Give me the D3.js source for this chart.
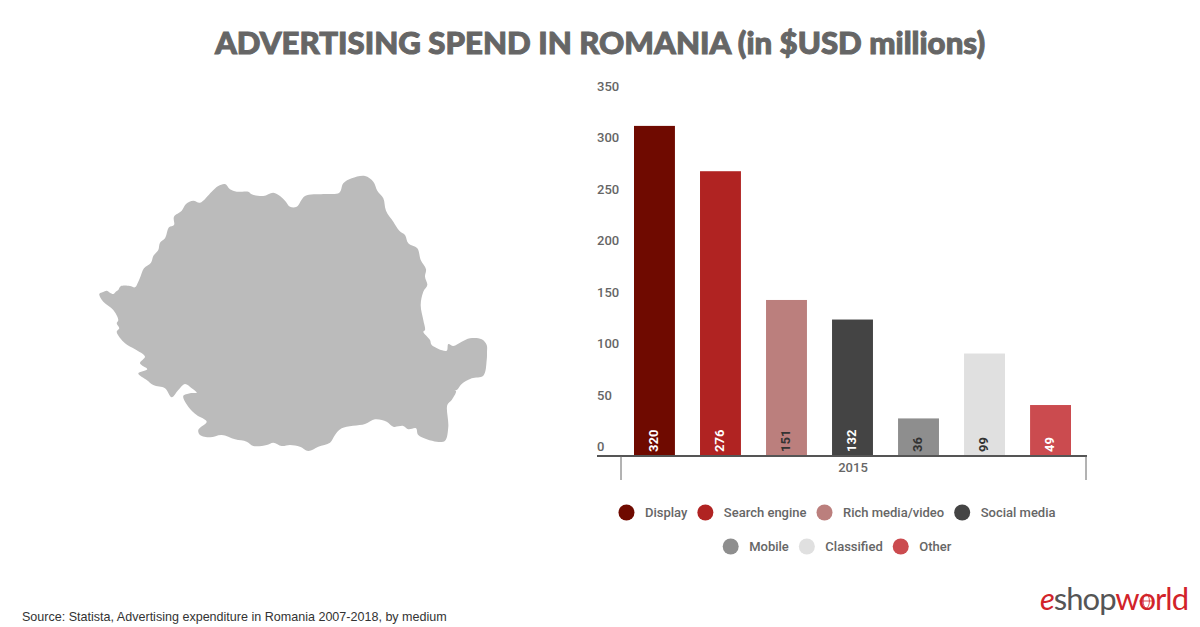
<!DOCTYPE html>
<html><head><meta charset="utf-8">
<script src="https://cdn.jsdelivr.net/npm/d3@7/dist/d3.min.js"></script>
<style>html,body{margin:0;padding:0;background:#fff}svg{display:block}</style>
</head><body><svg id="c" width="1200" height="627"></svg>
<script>
const categories = ["Display","Search engine","Rich media/video","Social media","Mobile","Classified","Other"];
const values = [320,276,151,132,36,99,49];
const colors = ["#6f0a00","#b02322","#bb7f7d","#444444","#8e8e8e","#e0e0e0","#cb4b4f"];
const labelColors = ["#fff","#fff","#333","#fff","#333","#333","#fff"];
const yTicks = [0,50,100,150,200,250,300,350];
const yearLabel = "2015";
const titleText = "ADVERTISING SPEND IN ROMANIA (in $USD millions)";
const sourceText = "Source: Statista, Advertising expenditure in Romania 2007-2018, by medium";
const legendRows = [[0,1,2,3],[4,5,6]];
const romaniaOutline = [[99.3,294],[103,292],[106.7,290.7],[110,292.7],[113.3,294],[116,291.5],[118.3,290],[120.7,286.3],[130,286],[135,287.3],[138.3,281.7],[140.7,276],[144,268.3],[151,262.7],[153.3,256],[158.3,250],[160,242.7],[165,238.3],[169,227.3],[174,225],[174,216.7],[181.7,210.7],[186,204],[193.3,200.7],[200,202.7],[211.7,191.7],[218.3,186],[225,184],[230,189.3],[236.7,191.7],[248.3,191.7],[251.7,194.3],[263.3,196],[273.3,192.7],[280,196],[285,200.7],[290,206.7],[296.7,206.7],[305,196],[323.3,194],[339.3,192.7],[343.3,183.3],[351.7,178.3],[365,176],[373.3,181.7],[377.3,190.7],[383.3,198.3],[386,210.7],[393.3,221.7],[399.3,230.7],[405,235],[408.3,243.3],[417.3,248.3],[420.7,260],[426,269.3],[425,276.7],[427.3,285],[423.3,291.7],[420.7,305],[423.3,320],[425,330],[423.3,331.7],[430,340],[431.7,345],[446.7,350.7],[448.3,344],[453.3,346],[461.7,341.7],[470,338.3],[481.7,339.3],[486.7,345],[487,352],[486.7,360],[483.3,375.7],[471.7,378.3],[461.7,384],[456.7,390],[451.7,390],[456,391],[451.7,400],[447.3,405],[448.3,426.7],[445,440.7],[436.7,441.7],[418.3,435],[416,428.3],[408.3,429.3],[403.3,426],[393.3,426.7],[386.7,421.7],[375,419.3],[365,424],[341.7,428.3],[335,435],[330,442.7],[318.3,446.7],[308.3,451],[300,446.7],[290,445],[281.7,446],[273.3,442.7],[266.7,445],[253.3,446],[246.7,441.7],[235,439.3],[221.7,435],[210,437.3],[200,435],[198.3,430],[206.7,421.7],[196.7,415],[188.3,406.7],[183.3,396],[190,393.3],[196.7,392.7],[191.7,388.3],[185,384],[178.3,390],[171.7,397.3],[165,388.3],[153.3,385],[146.7,380],[138.3,373.3],[147.3,369.3],[140,363.3],[145,356.7],[135,349.3],[125,343.3],[116.7,331.7],[119.3,328.3],[116.7,323.3],[118.3,320],[113.3,310],[103.3,301.7]];

const svg = d3.select("#c");
const ROBOTO = "Roboto, sans-serif";

svg.append("text").attr("x",600).attr("y",54).attr("text-anchor","middle")
  .attr("font-family","Lato, sans-serif").attr("font-weight",900).attr("font-size",31.2)
  .attr("fill","#666").attr("stroke","#666").attr("stroke-width",1).text(titleText);

// map
svg.append("path").attr("d", d3.line().curve(d3.curveCatmullRomClosed.alpha(0.5))(romaniaOutline)).attr("fill","#bbbbbb");

// scales
const y = d3.scaleLinear().domain([0,350]).range([455.5,95]);
const x = d3.scaleBand().domain(categories).range([621,1084]).paddingInner(0.38).paddingOuter(0.197);

// y axis
const yAxis = svg.append("g").attr("transform","translate(597,0)")
  .call(d3.axisLeft(y).tickValues(yTicks).tickSize(0).tickPadding(0));
yAxis.select(".domain").remove();
yAxis.selectAll("text").attr("text-anchor","start").attr("x",0).attr("dy",0).attr("y",-5)
  .attr("font-family",ROBOTO).attr("font-weight",500).attr("font-size",13).attr("fill","#666");

// bars
svg.selectAll("rect.bar").data(categories).join("rect").attr("class","bar")
  .attr("x",d=>x(d)).attr("width",x.bandwidth())
  .attr("y",(d,i)=>y(values[i])).attr("height",(d,i)=>y(0)-y(values[i]))
  .attr("fill",(d,i)=>colors[i]);
svg.selectAll("text.val").data(categories).join("text").attr("class","val")
  .attr("transform",d=>`translate(${x(d)+x.bandwidth()/2+3.5},${y(0)-3.5}) rotate(-90)`)
  .attr("font-family",ROBOTO).attr("font-weight",700).attr("font-size",13)
  .attr("fill",(d,i)=>labelColors[i]).text((d,i)=>values[i]);

// x axis
svg.append("line").attr("x1",597).attr("x2",1087).attr("y1",456).attr("y2",456).attr("stroke","#555").attr("stroke-width",2);
[621,1086].forEach(px=>svg.append("line").attr("x1",px).attr("x2",px).attr("y1",456).attr("y2",480).attr("stroke","#666").attr("stroke-width",1));
svg.append("text").attr("x",853).attr("y",472).attr("text-anchor","middle")
  .attr("font-family",ROBOTO).attr("font-weight",500).attr("font-size",13).attr("fill","#666").text(yearLabel);

// legend
legendRows.forEach((row,ri)=>{
  const g = svg.append("g");
  const cy = 512.5 + ri*34;
  let cx = 0;
  row.forEach(i=>{
    g.append("circle").attr("cx",cx).attr("cy",cy).attr("r",8).attr("fill",colors[i]);
    const t = g.append("text").attr("x",cx+18.5).attr("y",cy+4.5)
      .attr("font-family",ROBOTO).attr("font-weight",500).attr("font-size",13).attr("fill","#666").text(categories[i]);
    cx += 18.5 + t.node().getComputedTextLength() + 18;
  });
  const left = -8, right = cx - 18;
  g.attr("transform",`translate(${837-(left+right)/2},0)`);
});

// source
svg.append("text").attr("x",22).attr("y",621).attr("font-family","Liberation Sans, sans-serif")
  .attr("font-size",12.55).attr("fill","#333").text(sourceText);

// logo
const logo = svg.append("text").attr("x",1188).attr("y",610).attr("text-anchor","end")
  .attr("font-family","Lato, sans-serif").attr("font-size",31).attr("font-weight",400).attr("letter-spacing",-1);
logo.append("tspan").attr("fill","#d2232a").attr("font-style","italic").text("e");
logo.append("tspan").attr("fill","#555").text("shop");
logo.append("tspan").attr("fill","#d2232a").text("world");
// globe lines over the "o" of world
const box = logo.node().getExtentOfChar(6);
const gx = box.x + box.width/2 - 0.5, gy = 601, gr = 7;
const globe = svg.append("g").attr("fill","none").attr("stroke","#d2232a").attr("stroke-width",0.8);
globe.append("ellipse").attr("cx",gx).attr("cy",gy).attr("rx",gr*0.45).attr("ry",gr);
globe.append("line").attr("x1",gx-gr).attr("x2",gx+gr).attr("y1",gy).attr("y2",gy);
</script></body></html>
